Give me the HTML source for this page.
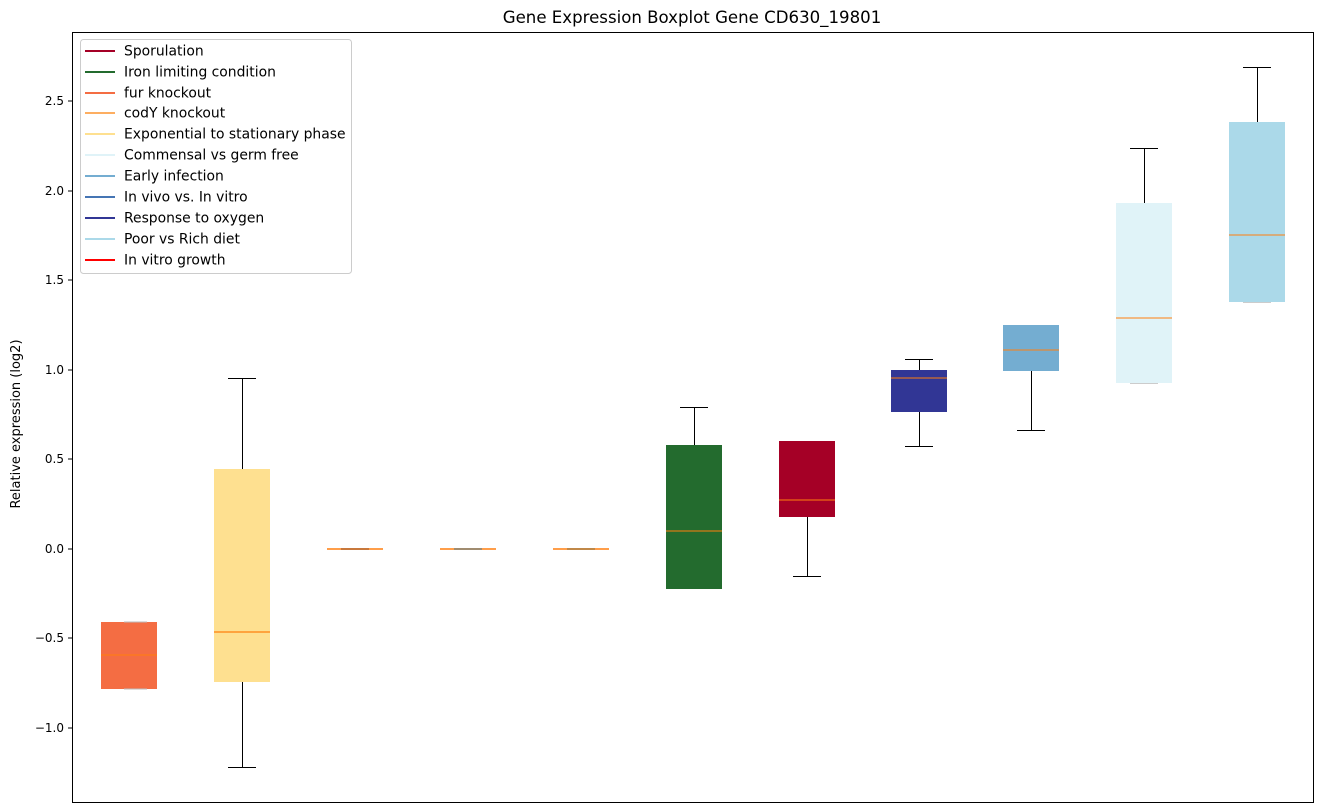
<!DOCTYPE html>
<html><head><meta charset="utf-8"><style>
html,body{margin:0;padding:0;background:#fff;}
svg{display:block;font-family:"DejaVu Sans","Liberation Sans",sans-serif;}
</style></head><body>
<svg width="1322" height="812" viewBox="0 0 1322 812" xmlns="http://www.w3.org/2000/svg">
<rect width="1322" height="812" fill="#fff"/>
<text x="692" y="23" font-size="16.6" text-anchor="middle" fill="#000">Gene Expression Boxplot Gene CD630_19801</text>
<g stroke-width="1">
<rect x="101" y="622" width="56" height="67" fill="#f46d43"/>
<line x1="124" x2="147" y1="622" y2="622" stroke="#bbb"/>
<line x1="124" x2="147" y1="689" y2="689" stroke="#bbb"/>
<line x1="101" x2="157" y1="655" y2="655" stroke="#ff7f0e"/>
<line x1="242.5" x2="242.5" y1="378" y2="469" stroke="#000"/>
<line x1="242.5" x2="242.5" y1="682" y2="767" stroke="#000"/>
<line x1="228" x2="256" y1="378.5" y2="378.5" stroke="#000"/>
<line x1="228" x2="256" y1="767.5" y2="767.5" stroke="#000"/>
<rect x="214" y="469" width="56" height="213" fill="#fee090"/>
<line x1="214" x2="270" y1="632" y2="632" stroke="#ff7f0e" stroke-width="1.3"/>
<line x1="327" x2="383" y1="549" y2="549" stroke="#ff7f0e" stroke-width="1.5"/>
<line x1="341" x2="369" y1="549" y2="549" stroke="#c8783c" stroke-width="2"/>
<line x1="440" x2="496" y1="549" y2="549" stroke="#ff7f0e" stroke-width="1.5"/>
<line x1="454" x2="482" y1="549" y2="549" stroke="#a08c70" stroke-width="2"/>
<line x1="553" x2="609" y1="549" y2="549" stroke="#ff7f0e" stroke-width="1.5"/>
<line x1="567" x2="595" y1="549" y2="549" stroke="#c08848" stroke-width="2"/>
<line x1="694.5" x2="694.5" y1="407" y2="445" stroke="#000"/>
<line x1="680" x2="708" y1="407.5" y2="407.5" stroke="#000"/>
<rect x="666" y="445" width="56" height="144" fill="#236b2e"/>
<line x1="666" x2="722" y1="531" y2="531" stroke="#ff7f0e"/>
<line x1="807.5" x2="807.5" y1="517" y2="576" stroke="#000"/>
<line x1="793" x2="821" y1="576.5" y2="576.5" stroke="#000"/>
<rect x="779" y="441" width="56" height="76" fill="#a50026"/>
<line x1="779" x2="835" y1="500" y2="500" stroke="#ff7f0e"/>
<line x1="919.5" x2="919.5" y1="359" y2="370" stroke="#000"/>
<line x1="919.5" x2="919.5" y1="412" y2="446" stroke="#000"/>
<line x1="905" x2="933" y1="359.5" y2="359.5" stroke="#000"/>
<line x1="905" x2="933" y1="446.5" y2="446.5" stroke="#000"/>
<rect x="891" y="370" width="56" height="42" fill="#313695"/>
<line x1="891" x2="947" y1="378" y2="378" stroke="#ff7f0e"/>
<line x1="1031.5" x2="1031.5" y1="371" y2="430" stroke="#000"/>
<line x1="1017" x2="1045" y1="430.5" y2="430.5" stroke="#000"/>
<rect x="1003" y="325" width="56" height="46" fill="#74add1"/>
<line x1="1003" x2="1059" y1="350" y2="350" stroke="#ff7f0e"/>
<line x1="1144.5" x2="1144.5" y1="148" y2="203" stroke="#000"/>
<line x1="1130" x2="1158" y1="148.5" y2="148.5" stroke="#000"/>
<rect x="1116" y="203" width="56" height="180" fill="#e0f3f8"/>
<line x1="1130" x2="1158" y1="383.5" y2="383.5" stroke="#ccc"/>
<line x1="1116" x2="1172" y1="318" y2="318" stroke="#ff7f0e"/>
<line x1="1257.5" x2="1257.5" y1="67" y2="122" stroke="#000"/>
<line x1="1243" x2="1271" y1="67.5" y2="67.5" stroke="#000"/>
<rect x="1229" y="122" width="56" height="180" fill="#abd9e9"/>
<line x1="1243" x2="1271" y1="302.5" y2="302.5" stroke="#ccc"/>
<line x1="1229" x2="1285" y1="235" y2="235" stroke="#ff7f0e"/>
</g>
<rect x="72.5" y="32.5" width="1241" height="770" fill="none" stroke="#000" stroke-width="1"/>
<g stroke="#000" font-size="12" text-anchor="end" fill="#000">
<line x1="68" x2="72" y1="101" y2="101"/><text x="64" y="105" stroke="none">2.5</text>
<line x1="68" x2="72" y1="191" y2="191"/><text x="64" y="195" stroke="none">2.0</text>
<line x1="68" x2="72" y1="280" y2="280"/><text x="64" y="284" stroke="none">1.5</text>
<line x1="68" x2="72" y1="370" y2="370"/><text x="64" y="374" stroke="none">1.0</text>
<line x1="68" x2="72" y1="459" y2="459"/><text x="64" y="463" stroke="none">0.5</text>
<line x1="68" x2="72" y1="549" y2="549"/><text x="64" y="553" stroke="none">0.0</text>
<line x1="68" x2="72" y1="638" y2="638"/><text x="64" y="642" stroke="none">−0.5</text>
<line x1="68" x2="72" y1="728" y2="728"/><text x="64" y="732" stroke="none">−1.0</text>
</g>
<text transform="translate(20,424) rotate(-90)" font-size="13" text-anchor="middle" fill="#000">Relative expression (log2)</text>
<rect x="80.5" y="39.5" width="271" height="234" rx="3" fill="#fff" fill-opacity="0.8" stroke="#ccc"/>
<g font-size="13.9" fill="#000" stroke-width="2">
<line x1="85" x2="115" y1="51" y2="51" stroke="#a50026"/><text x="124" y="55.5">Sporulation</text>
<line x1="85" x2="115" y1="72" y2="72" stroke="#236b2e"/><text x="124" y="76.5">Iron limiting condition</text>
<line x1="85" x2="115" y1="93" y2="93" stroke="#f46d43"/><text x="124" y="97.5">fur knockout</text>
<line x1="85" x2="115" y1="113" y2="113" stroke="#fdae61"/><text x="124" y="117.5">codY knockout</text>
<line x1="85" x2="115" y1="134" y2="134" stroke="#fee090"/><text x="124" y="138.5">Exponential to stationary phase</text>
<line x1="85" x2="115" y1="155" y2="155" stroke="#e0f3f8"/><text x="124" y="159.5">Commensal vs germ free</text>
<line x1="85" x2="115" y1="176" y2="176" stroke="#74add1"/><text x="124" y="180.5">Early infection</text>
<line x1="85" x2="115" y1="197" y2="197" stroke="#4575b4"/><text x="124" y="201.5">In vivo vs. In vitro</text>
<line x1="85" x2="115" y1="218" y2="218" stroke="#313695"/><text x="124" y="222.5">Response to oxygen</text>
<line x1="85" x2="115" y1="239" y2="239" stroke="#abd9e9"/><text x="124" y="243.5">Poor vs Rich diet</text>
<line x1="85" x2="115" y1="260" y2="260" stroke="#ff0000"/><text x="124" y="264.5">In vitro growth</text>
</g>
</svg>
</body></html>
